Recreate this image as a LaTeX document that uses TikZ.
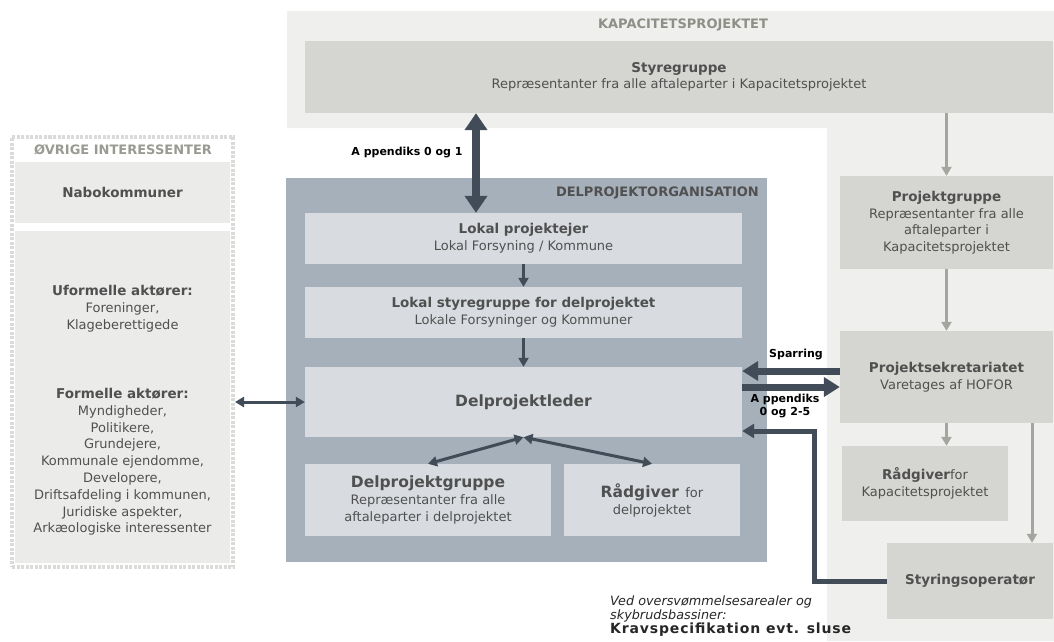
\documentclass[tikz,border=0pt]{standalone}
\usepackage{fontspec}
\setmainfont{DejaVu Sans}
\usetikzlibrary{
		calc,
		positioning,
		arrows.meta
	}
\definecolor{kapbg}{HTML}{EFEFED}
\definecolor{kapbox}{HTML}{D5D5D1}
\definecolor{delbg}{HTML}{A6B0BB}
\definecolor{delbox}{HTML}{D8DCE0}
\definecolor{ovbox}{HTML}{EBEBEA}
\definecolor{ovframe}{HTML}{DADAD8}
\definecolor{darkarr}{HTML}{414C58}
\definecolor{grayarr}{HTML}{A5A59F}
\definecolor{txtgray}{HTML}{505050}
\definecolor{kaptxt}{HTML}{8F8F88}
\newcommand{\ltext}{txtgray}
\newcommand{\hd}{\fontsize{13.5}{16.5}\selectfont\bfseries}
\newcommand{\hb}{\fontsize{15.5}{18}\selectfont\bfseries}
\tikzset{
		>=Stealth,
		kbox/.style={fill=kapbox, text=\ltext, align=center, inner sep=0pt, font=\fontsize{13}{16.5}\selectfont},
		dbox/.style={fill=delbox, text=\ltext, align=center, inner sep=0pt, font=\fontsize{13}{17}\selectfont},
		obox/.style={fill=ovbox, inner sep=0pt},
		otext/.style={text=\ltext, align=center, inner sep=0pt, font=\fontsize{13}{16.8}\selectfont},
		grouptitle/.style={text=kaptxt, inner sep=0pt, font=\fontsize{13}{15}\selectfont\bfseries},
		lbl/.style={text=black, inner sep=0pt, align=center, font=\fontsize{11}{13}\selectfont\bfseries},
		dkbig/.style={draw=darkarr, line width=8pt, {Triangle[width=22pt,length=17pt]}-{Triangle[width=22pt,length=17pt]}},
		dkwide/.style={draw=darkarr, line width=7pt, -{Triangle[width=19pt,length=16pt]}},
		dkret/.style={draw=darkarr, line width=5pt, line join=miter, -{Triangle[width=14pt,length=12pt]}},
		dkmid/.style={draw=darkarr, line width=3pt, -{Triangle[width=10pt,length=9pt]}},
		dkdbl/.style={draw=darkarr, line width=3pt, {Triangle[width=10pt,length=9pt]}-{Triangle[width=10pt,length=9pt]}},
		grarr/.style={draw=grayarr, line width=3pt, -{Triangle[width=10pt,length=9pt]}}
	}

\begin{document}
\begin{tikzpicture}[x=1pt,y=-1pt]
		\useasboundingbox (0,0) rectangle (1054,641);
		% kapacitetsprojektet
		\fill[kapbg] (287,11) rectangle (1054,128) (827,11) rectangle (1054,641);
		\node[grouptitle] (kaptit) at (683,25) {KAPACITETSPROJEKTET};
		\node[kbox, minimum width=748pt, minimum height=72pt] (styre) at (679,77) {{\hd Styregruppe}\\Repræsentanter fra alle aftaleparter i Kapacitetsprojektet};
		\node[kbox, minimum width=213pt, minimum height=93pt] (projg) at (946.5,222.5) {{\hd Projektgruppe}\\Repræsentanter fra alle\\aftaleparter i\\Kapacitetsprojektet};
		\node[kbox, minimum width=213pt, minimum height=92pt] (sekr) at (946.5,377) {{\hd Projektsekretariatet}\\Varetages af HOFOR};
		\node[kbox, minimum width=166pt, minimum height=75pt] (radk) at (925,483.5) {{\hd Rådgiver}for\\Kapacitetsprojektet};
		\node[kbox, minimum width=166pt, minimum height=76pt] (styr) at (970,581) {\hd Styringsoperatør};
		% delprojektorganisation
		\node[fill=delbg, minimum width=481pt, minimum height=384pt, inner sep=0pt] (delorg) at (526.5,370) {};
		\node[grouptitle, text=\ltext, anchor=east] (deltit) at (759,193) {DELPROJEKTORGANISATION};
		\node[dbox, minimum width=437pt, minimum height=51pt] (lokal) at (523.5,238.5) {{\hd Lokal projektejer}\\Lokal Forsyning / Kommune};
		\node[dbox, minimum width=437pt, minimum height=51pt] (lstyre) at (523.5,312.5) {{\hd Lokal styregruppe for delprojektet}\\Lokale Forsyninger og Kommuner};
		\node[dbox, minimum width=437pt, minimum height=70pt] (leder) at (523.5,402) {\hb Delprojektleder};
		\node[dbox, minimum width=246pt, minimum height=72pt] (dgrp) at (428,500) {{\hb Delprojektgruppe}\\Repræsentanter fra alle\\aftaleparter i delprojektet};
		\node[dbox, minimum width=176pt, minimum height=72pt] (radd) at (652,500) {{\hb Rådgiver}\enspace for\\delprojektet};
		% oevrige interessenter
		\node[draw=ovframe, line width=4pt, dash pattern=on 3pt off 1.5pt, minimum width=221pt, minimum height=430pt] (ovr) at (122.5,352) {};
		\node[grouptitle, text=kaptxt!90!white] (ovtit) at (123,150) {ØVRIGE INTERESSENTER};
		\node[obox, minimum width=215pt, minimum height=61pt] (nabo) at (122.5,192.5) {};
		\node[otext] (nabotxt) at (nabo) {\hd Nabokommuner};
		\node[obox, minimum width=215pt, minimum height=332pt] (akt) at (122.5,397) {};
		\node[otext] (uform) at (122.5,309) {{\hd Uformelle aktører:}\\Foreninger,\\Klageberettigede};
		\node[otext] (form) at (122.5,462) {{\hd Formelle aktører:}\\Myndigheder,\\Politikere,\\Grundejere,\\Kommunale ejendomme,\\Developere,\\Driftsafdeling i kommunen,\\Juridiske aspekter,\\Arkæologiske interessenter};
		% labels
		\node[lbl] (app1) at (407,153) {A ppendiks 0 og 1};
		\node[lbl] (spar) at (796,354) {Sparring};
		\node[lbl] (app2) at (785,406) {A ppendiks\\0 og 2-5};
		\node[anchor=north west, align=left, inner sep=0pt, text=black!85, font=\fontsize{12.8}{14}\selectfont] (note) at (610,596) {{\itshape Ved oversvømmelsesarealer og}\\{\itshape skybrudsbassiner:}\\{\fontsize{14}{15}\selectfont\bfseries\addfontfeature{LetterSpace=6}Kravspecifikation evt. sluse}};
		% connectors
		\coordinate (apx) at (476,0);
		\draw[dkbig] (styre.south -| apx) -- (lokal.north -| apx);
		\draw[dkmid] (lokal.south) -- (lstyre.north);
		\draw[dkmid] (lstyre.south) -- (leder.north);
		\draw[dkdbl] (leder.south) -- (dgrp.north);
		\draw[dkdbl] (leder.south) -- (radd.north);
		\draw[dkdbl] (leder.west -| ovr.east) -- (leder.west);
		\coordinate (sparr) at ([yshift=6pt]sekr.west);
		\coordinate (appr) at ([yshift=-10pt]sekr.west);
		\draw[dkwide] (sparr) -- (sparr -| leder.east);
		\draw[dkwide] (appr -| leder.east) -- (appr);
		\coordinate (bend) at (814,431);
		\draw[dkret] (styr.west) -| (bend) -- (bend -| leder.east);
		\draw[grarr] (styre.south -| projg.north) -- (projg.north);
		\draw[grarr] (projg.south) -- (sekr.north);
		\draw[grarr] (sekr.south) -- (sekr.south |- radk.north);
		\coordinate (sk) at ([xshift=85.5pt]sekr.south);
		\draw[grarr] (sk) -- (sk |- styr.north);
	\end{tikzpicture}
\end{document}
